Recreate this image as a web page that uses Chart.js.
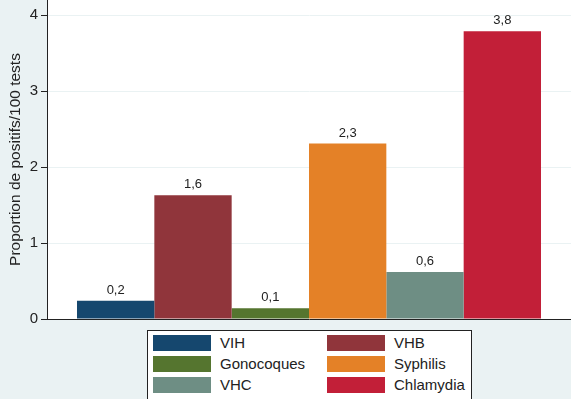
<!DOCTYPE html>
<html>
<head>
<meta charset="utf-8">
<script src="https://cdn.jsdelivr.net/npm/chart.js@4.4.1/dist/chart.umd.min.js"></script>
<style>
  html, body { margin: 0; padding: 0; background: #eaf2f3; }
  #wrap { position: relative; width: 571px; height: 399px; overflow: hidden; }
  #legend {
    position: absolute; left: 147px; top: 330px; width: 325px; height: 80px;
    background: #fff; border: 1px solid #222; box-sizing: border-box;
    font-family: Arial, "Liberation Sans", sans-serif; font-size: 15px; color: #222;
  }
  .item { position: absolute; height: 16px; line-height: 16px; white-space: nowrap; }
  .swatch { position: absolute; left: 0; top: 0; width: 58px; height: 16px; }
  .item span { position: absolute; left: 67px; top: 0; }
</style>
</head>
<body>
<div id="wrap">
  <canvas id="chart" width="571" height="399"></canvas>
  <div id="legend"></div>
</div>
<script>
// Données
const categories = ['VIH', 'VHB', 'Gonocoques', 'Syphilis', 'VHC', 'Chlamydia'];
const values = [0.24, 1.63, 0.14, 2.31, 0.62, 3.79];
const colors = ['#15476e', '#90353b', '#55752f', '#e48127', '#6e8e84', '#c21f38'];
const yTicks = [0, 1, 2, 3, 4];

const fontFamily = 'Arial, "Liberation Sans", sans-serif';

// Légende HTML (2 colonnes, dans l'ordre des lignes)
function buildLegend() {
  const legend = document.getElementById('legend');
  categories.forEach((name, i) => {
    const col = i % 2;
    const row = Math.floor(i / 2);
    const item = document.createElement('div');
    item.className = 'item';
    item.style.left = (col === 0 ? 5 : 179) + 'px';
    item.style.top = (4 + row * 21) + 'px';
    item.innerHTML = '<div class="swatch" style="background:' + colors[i] + '"></div><span>' + name + '</span>';
    legend.appendChild(item);
  });
}

// Étiquettes de valeur au-dessus des barres
const valueLabels = {
  id: 'valueLabels',
  afterDatasetsDraw(chart) {
    const ctx = chart.ctx;
    ctx.save();
    ctx.font = '13px ' + fontFamily;
    ctx.fillStyle = '#222';
    ctx.textAlign = 'center';
    ctx.textBaseline = 'bottom';
    chart.data.datasets.forEach((ds, i) => {
      const bar = chart.getDatasetMeta(i).data[0];
      const txt = ds.data[0].toFixed(1).replace('.', ',');
      ctx.fillText(txt, bar.x, bar.y - 4);
    });
    ctx.restore();
  }
};

const ctx = document.getElementById('chart').getContext('2d');
new Chart(ctx, {
  type: 'bar',
  data: {
    labels: [''],
    datasets: categories.map((name, i) => ({
      label: name,
      data: [values[i]],
      backgroundColor: colors[i],
      borderWidth: 0,
      barPercentage: 1,
      categoryPercentage: 0.8855
    }))
  },
  options: {
    responsive: false,
    animation: false,
    layout: { padding: { left: 0, right: 0, top: 0, bottom: 80 } },
    plugins: {
      legend: { display: false },
      tooltip: { enabled: false }
    },
    scales: {
      x: {
        grid: { display: false, drawTicks: false },
        ticks: { display: false },
        border: { display: true, color: '#222', width: 1 }
      },
      y: {
        min: 0,
        max: 4.2,
        afterBuildTicks: (scale) => {
          scale.ticks = yTicks.map(v => ({ value: v }));
        },
        afterFit: (scale) => {
          scale.width = 47;
          scale.paddingTop = 0;
          scale.paddingBottom = 0;
        },
        ticks: {
          font: { family: fontFamily, size: 15 },
          color: '#222',
          padding: 3
        },
        grid: {
          color: '#eaf2f3',
          tickColor: '#222',
          tickLength: 6,
          lineWidth: 1
        },
        border: { display: true, color: '#222', width: 1 },
        title: {
          display: true,
          text: 'Proportion de positifs/100 tests',
          font: { family: fontFamily, size: 15.5 },
          color: '#222',
          padding: { top: 6, bottom: 0 }
        }
      }
    }
  },
  plugins: [
    {
      id: 'plotBackground',
      beforeDraw(chart) {
        const a = chart.chartArea;
        chart.ctx.save();
        chart.ctx.fillStyle = '#ffffff';
        chart.ctx.fillRect(a.left, a.top, a.right - a.left, a.bottom - a.top);
        chart.ctx.restore();
      }
    },
    valueLabels
  ]
});

buildLegend();
</script>
</body>
</html>
